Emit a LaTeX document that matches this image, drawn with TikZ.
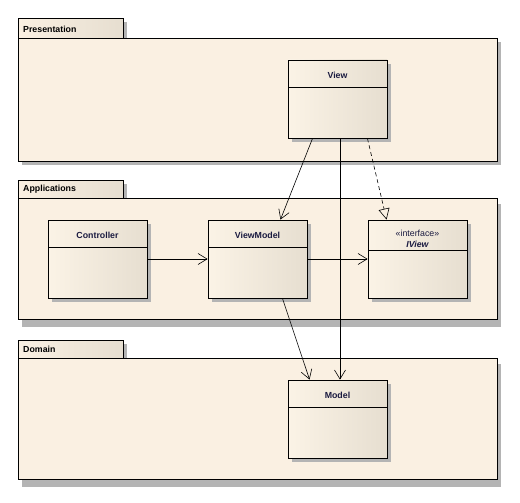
\documentclass[tikz,border=0pt]{standalone}
\usepackage{fontspec}
\setmainfont{Liberation Sans}
\usetikzlibrary{arrows.meta,calc}
\definecolor{pkgfill}{HTML}{FAF0E2}
\definecolor{clsleft}{HTML}{FBF3E6}
\definecolor{clsright}{HTML}{E6DED0}
\definecolor{shadowc}{HTML}{B4B4B4}
\definecolor{titlec}{HTML}{1A1A40}
\tikzset{
  pkgbox/.style={draw=black,line width=0.8pt,fill=pkgfill,inner sep=0pt,anchor=north west},
  pkgtab/.style={draw=black,line width=0.8pt,left color=pkgfill,right color=clsright,inner sep=0pt,anchor=north west,minimum width=105pt,minimum height=20pt},
  pkglabel/.style={anchor=west,font=\fontsize{8.8}{10}\selectfont\bfseries,text=black,inner sep=0pt},
  clsbox/.style={draw=black,line width=0.8pt,left color=clsleft,right color=clsright,minimum width=99pt,minimum height=78pt,inner sep=0pt},
  clsname/.style={font=\fontsize{8.8}{10}\selectfont\bfseries,text=titlec,inner sep=0pt},
  shadowbox/.style={fill=shadowc,draw=none},
  assoc/.style={-{Straight Barb[length=9pt,width=11pt]},line width=0.6pt},
  realize/.style={-{Triangle[open,length=11pt,width=11pt]},line width=0.6pt,dash pattern=on 4pt off 3pt},
}
\begin{document}
\begin{tikzpicture}[x=1pt,y=-1pt]
\useasboundingbox (0,0) rectangle (520,503);
% packages: shadows
\foreach \ty in {18,180,340}{
  \fill[shadowc] (22,\ty+4) rectangle (127,\ty+20);
  \fill[shadowc] (22,\ty+24) rectangle (501,\ty+24+123);
}
% Presentation
\node[pkgbox,minimum width=479pt,minimum height=123pt] (presbody) at (18,38) {};
\node[pkgtab] (prestab) at (18,18) {};
\node[pkglabel] (preslbl) at (23,29) {Presentation};
% Applications
\node[pkgbox,minimum width=479pt,minimum height=121pt] (appbody) at (18,198) {};
\node[pkgtab,minimum height=18pt] (apptab) at (18,180) {};
\node[pkglabel] (applbl) at (23,189) {Applications};
% Domain
\node[pkgbox,minimum width=479pt,minimum height=121pt] (dombody) at (18,358) {};
\node[pkgtab,minimum height=18pt] (domtab) at (18,340) {};
\node[pkglabel] (domlbl) at (23,349) {Domain};
% class shadows
\foreach \cx/\cy in {337.5/99, 97.5/259, 257.5/259, 417.5/259, 337.5/419}{
  \fill[shadowc] (\cx-45.5,\cy-35) rectangle (\cx+53.5,\cy+43);
}
% classes
\node[clsbox] (view) at (337.5,99) {};
\draw[line width=0.8pt] (288,87) -- (387,87);
\node[clsname] (viewname) at (337.5,75) {View};
\node[clsbox] (ctrl) at (97.5,259) {};
\draw[line width=0.8pt] (48,247) -- (147,247);
\node[clsname] (ctrlname) at (97.5,235.5) {Controller};
\node[clsbox] (vm) at (257.5,259) {};
\draw[line width=0.8pt] (208,247) -- (307,247);
\node[clsname] (vmname) at (257.5,235.5) {ViewModel};
\node[clsbox] (iview) at (417.5,259) {};
\draw[line width=0.8pt] (368,250) -- (467,250);
\node[font=\fontsize{8.8}{10}\selectfont,text=titlec,inner sep=0pt] (iviewst) at (417.5,233) {«interface»};
\node[font=\fontsize{8.8}{10}\selectfont\bfseries\itshape,text=titlec,inner sep=0pt] (iviewname) at (417.5,244) {IView};
\node[clsbox] (model) at (337.5,419) {};
\draw[line width=0.8pt] (288,407) -- (387,407);
\node[clsname] (modelname) at (337.5,395.5) {Model};
% connectors
\draw[assoc] ($(view.south west)!0.25!(view.south east)$) -- ($(vm.north west)!0.73!(vm.north east)$);
\draw[assoc] ($(view.south west)!0.525!(view.south east)$) -- ($(model.north west)!0.525!(model.north east)$);
\draw[realize] ($(view.south west)!0.8!(view.south east)$) -- ($(iview.north west)!0.19!(iview.north east)$);
\draw[assoc] (ctrl.east) -- (vm.west);
\draw[assoc] (vm.east) -- (iview.west);
\draw[assoc] ($(vm.south west)!0.75!(vm.south east)$) -- ($(model.north west)!0.22!(model.north east)$);
\end{tikzpicture}
\end{document}
